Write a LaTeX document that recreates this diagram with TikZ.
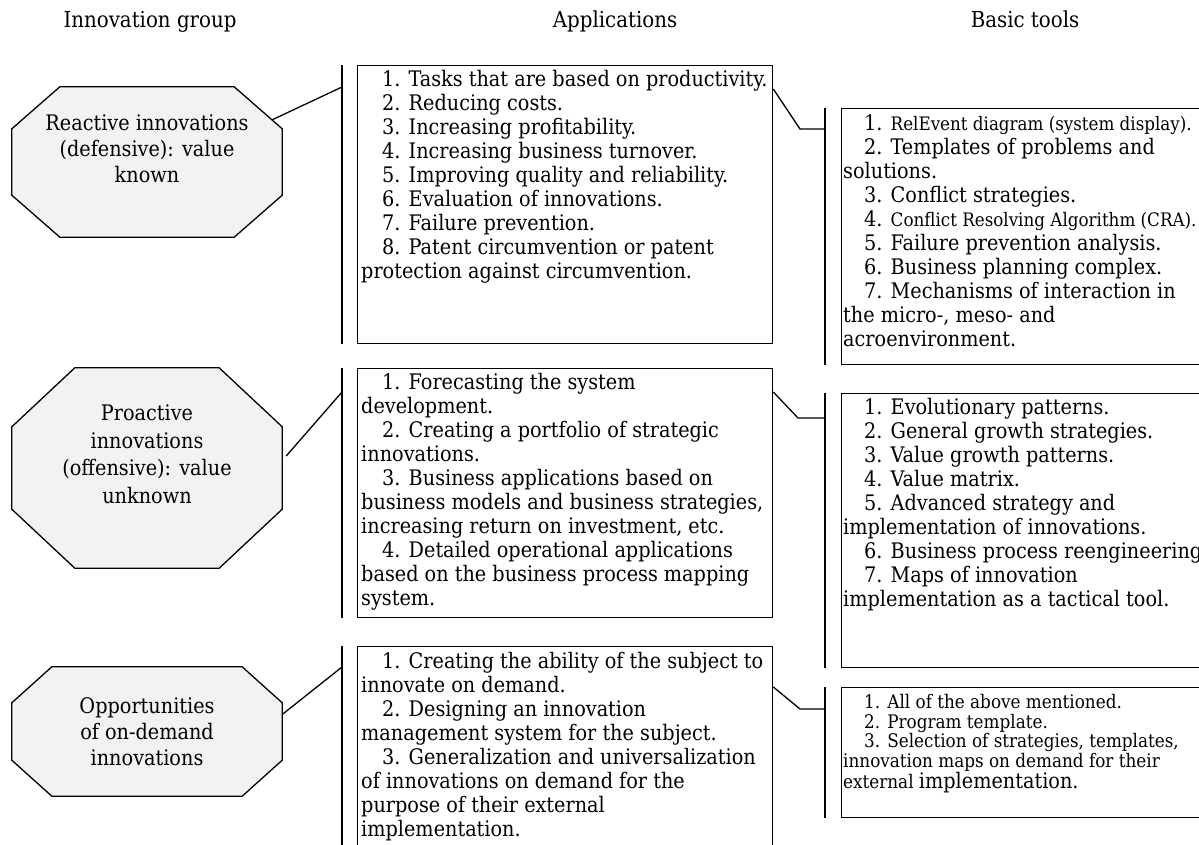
\documentclass[tikz,border=0pt]{standalone}
\usepackage{fontspec}
\setmainfont{DejaVu Serif Condensed}
\usetikzlibrary{backgrounds}

% sizes of the text in the boxes
\newcommand{\bodysize}{\fontsize{21.4}{24}\selectfont}
\newcommand{\smallsize}{\fontsize{18.6}{24}\selectfont}
\newcommand{\ind}{\hspace*{21pt}}

% octagon round a group node: node, horizontal cut, vertical cut
\newcommand{\octagon}[3]{%
  \filldraw[octa] ([xshift=#2]#1.north west) -- ([xshift=-#2]#1.north east)
    -- ([yshift=-#3]#1.north east) -- ([yshift=#3]#1.south east)
    -- ([xshift=-#2]#1.south east) -- ([xshift=#2]#1.south west)
    -- ([yshift=#3]#1.south west) -- ([yshift=-#3]#1.north west) -- cycle;}

\tikzset{
  group/.style={minimum width=270pt, align=center, inner sep=0pt},
  octa/.style={fill=gray!10, draw=black, line width=1.3pt},
  listbox/.style={draw, line width=1.3pt, anchor=north west, inner sep=0pt},
  listtext/.style={anchor=north west, align=left, inner sep=0pt, font=\bodysize},
  head/.style={anchor=base, font=\fontsize{22}{24}\selectfont},
  link/.style={line width=1.3pt},
}

\begin{document}
\begin{tikzpicture}[x=1pt,y=-1pt]
\useasboundingbox (0,0) rectangle (1199,844);
\clip (0,0) rectangle (1199,844);

% column titles
\node[head] (hgroup) at (150,27) {Innovation group};
\node[head] (happ) at (615,27) {Applications};
\node[head] (htool) at (1025,27) {Basic tools};

% innovation groups
\node[group, minimum height=150pt, font=\fontsize{21.4}{26}\selectfont]
  (grp1) at (147,162) {Reactive innovations\\(defensive): value\\known\\\mbox{}};
\node[group, minimum height=200pt, font=\fontsize{21.4}{27.6}\selectfont]
  (grp2) at (147,468) {Proactive\\innovations\\(offensive): value\\unknown\\\mbox{}};
\node[group, minimum height=129pt, font=\fontsize{21.4}{26}\selectfont]
  (grp3) at (147,731.5) {Opportunities\\of on-demand\\innovations};
\begin{scope}[on background layer]
  \octagon{grp1}{48pt}{42pt}
  \octagon{grp2}{63pt}{59pt}
  \octagon{grp3}{40pt}{36pt}
\end{scope}

% applications
\node[listbox, minimum width=415pt, minimum height=278pt] (app1) at (357,65) {};
\node[listbox, minimum width=415pt, minimum height=249pt] (app2) at (357,368) {};
\node[listbox, minimum width=415pt, minimum height=220pt] (app3) at (357,646) {};

\node[listtext] (app1txt) at ([xshift=4pt,yshift=-5pt]app1.north west) {%
\ind 1. Tasks that are based on productivity.\\
\ind 2. Reducing costs.\\
\ind 3. Increasing profitability.\\
\ind 4. Increasing business turnover.\\
\ind 5. Improving quality and reliability.\\
\ind 6. Evaluation of innovations.\\
\ind 7. Failure prevention.\\
\ind 8. Patent circumvention or patent\\
protection against circumvention.};
\node[listtext] (app2txt) at ([xshift=4pt,yshift=-5pt]app2.north west) {%
\ind 1. Forecasting the system\\
development.\\
\ind 2. Creating a portfolio of strategic\\
innovations.\\
\ind 3. Business applications based on\\
business models and business strategies,\\
increasing return on investment, etc.\\
\ind 4. Detailed operational applications\\
based on the business process mapping\\
system.};
\node[listtext] (app3txt) at ([xshift=4pt,yshift=-6pt]app3.north west) {%
\ind 1. Creating the ability of the subject to\\
innovate on demand.\\
\ind 2. Designing an innovation\\
management system for the subject.\\
\ind 3. Generalization and universalization\\
of innovations on demand for the\\
purpose of their external\\
implementation.};

% basic tools
\node[listbox, minimum width=380pt, minimum height=256pt] (tool1) at (841,108) {};
\node[listbox, minimum width=380pt, minimum height=274pt] (tool2) at (841,393) {};
\node[listbox, minimum width=380pt, minimum height=130pt] (tool3) at (841,687) {};

\node[listtext] (tool1txt) at ([xshift=2pt,yshift=-6pt]tool1.north west) {%
\ind 1. {\smallsize RelEvent diagram (system display).}\\
\ind 2. Templates of problems and\\
solutions.\\
\ind 3. Conflict strategies.\\
\ind 4. {\smallsize Conflict Resolving Algorithm (CRA).}\\
\ind 5. Failure prevention analysis.\\
\ind 6. Business planning complex.\\
\ind 7. Mechanisms of interaction in\\
the micro-, meso- and\\
acroenvironment.};
\node[listtext] (tool2txt) at ([xshift=2pt,yshift=-5pt]tool2.north west) {%
\ind 1. Evolutionary patterns.\\
\ind 2. General growth strategies.\\
\ind 3. Value growth patterns.\\
\ind 4. Value matrix.\\
\ind 5. Advanced strategy and\\
implementation of innovations.\\
\ind 6. Business process reengineering.\\
\ind 7. Maps of innovation\\
implementation as a tactical tool.};
\node[listtext, font=\fontsize{18.7}{19.6}\selectfont] (tool3txt) at ([xshift=2pt,yshift=-7pt]tool3.north west) {%
\ind 1. All of the above mentioned.\\
\ind 2. Program template.\\
\ind 3. Selection of strategies, templates,\\
innovation maps on demand for their\\
external {\bodysize implementation.}};

% brackets in front of the lists
\foreach \b in {app1,app2,app3}
  \draw[link] ([xshift=-15pt]\b.north west) -- ([xshift=-15pt]\b.south west);
\foreach \b in {tool1,tool2,tool3}
  \draw[link] ([xshift=-16pt]\b.north west) -- ([xshift=-16pt]\b.south west);

% group -> applications
\draw[link] ([xshift=-10pt,yshift=-33pt]grp1.north east) -- ([xshift=-15pt,yshift=-22pt]app1.north west);
\draw[link] ([xshift=4pt,yshift=12pt]grp2.east) -- ([xshift=-15pt,yshift=-24pt]app2.north west);
\draw[link] ([yshift=17pt]grp3.east) -- ([xshift=-15pt,yshift=-21pt]app3.north west);

% applications -> tools
\draw[link] ([yshift=-24pt]app1.north east) -- ([xshift=-41pt,yshift=-21pt]tool1.north west)
  -- ([xshift=-16pt,yshift=-21pt]tool1.north west);
\draw[link] ([yshift=-24pt]app2.north east) -- ([xshift=-43pt,yshift=-25pt]tool2.north west)
  -- ([xshift=-16pt,yshift=-25pt]tool2.north west);
\draw[link] ([yshift=-41pt]app3.north east) -- ([xshift=-41pt,yshift=-22pt]tool3.north west)
  -- ([xshift=-16pt,yshift=-22pt]tool3.north west);
\end{tikzpicture}
\end{document}
